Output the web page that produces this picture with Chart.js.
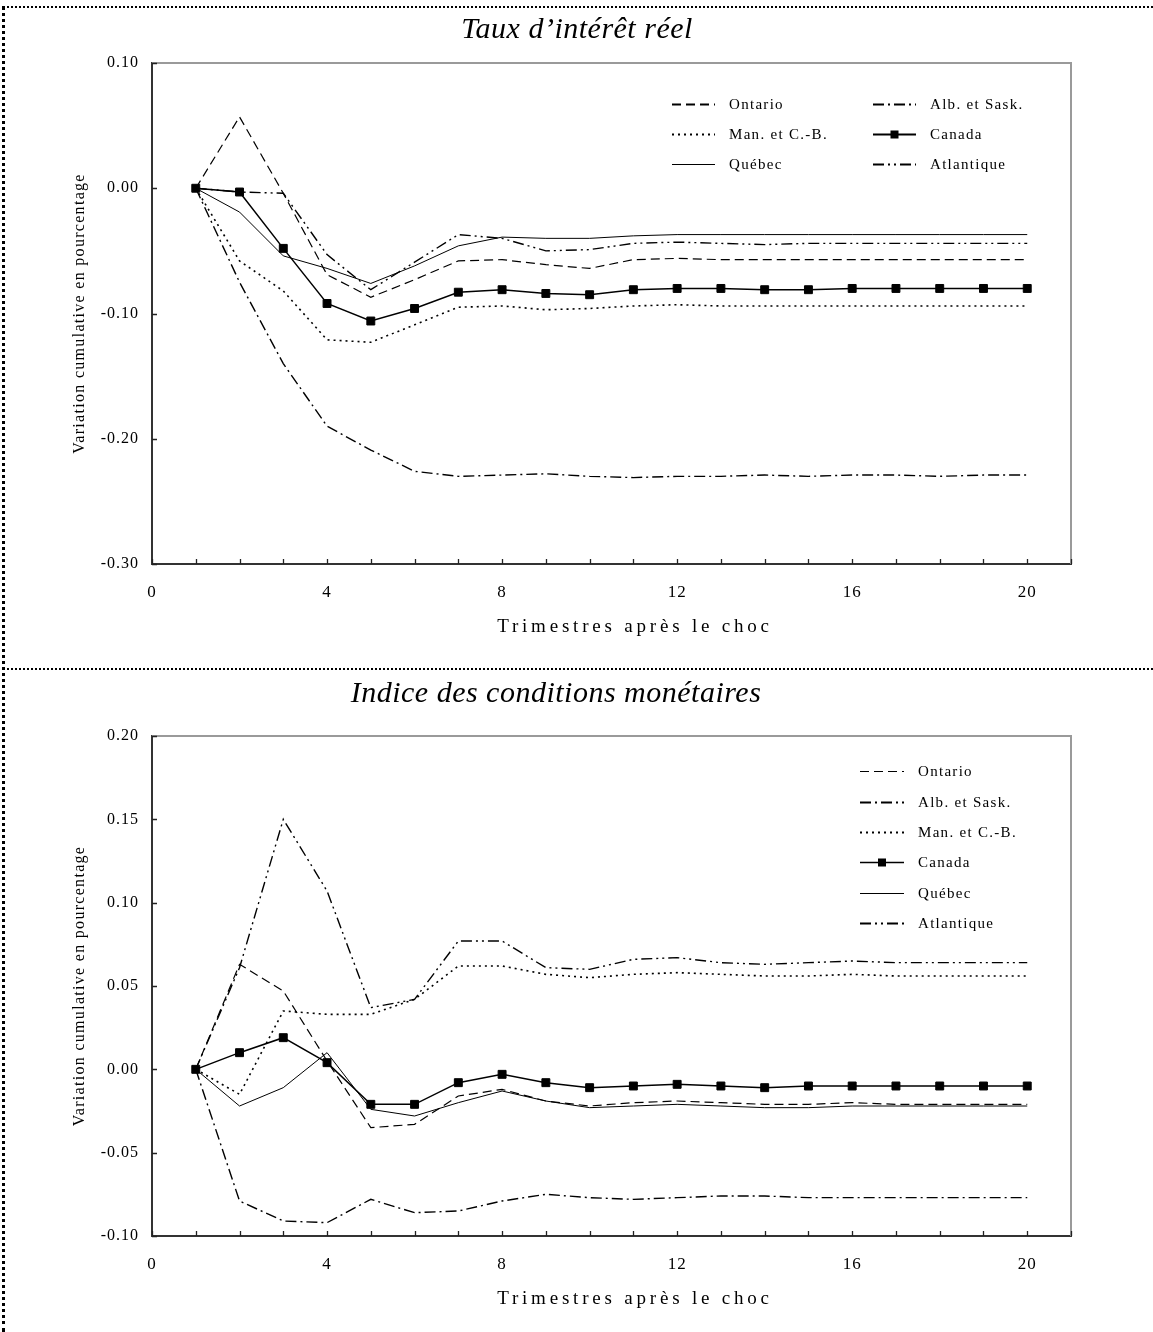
<!DOCTYPE html>
<html lang="fr">
<head>
<meta charset="utf-8">
<title>Taux d’intérêt réel et Indice des conditions monétaires</title>
<script src="https://cdn.jsdelivr.net/npm/chart.js@4.4.1/dist/chart.umd.min.js"></script>
<style>
  html, body { margin: 0; padding: 0; background: #fff; }
  body { width: 1153px; height: 1332px; position: relative; overflow: hidden; }
  .frame { position: absolute; left: 2px; top: 6px; width: 1151px; height: 1326px;
           border-left: 3px dotted #000; border-top: 2px dotted #000; box-sizing: border-box; }
  .sep { position: absolute; left: 2px; top: 668px; width: 1151px; border-top: 2px dotted #000; }
  canvas { position: absolute; left: 0; }
  #c1 { top: 0; }
  #c2 { top: 670px; }
</style>
</head>
<body>
<div class="frame"></div>
<div class="sep"></div>
<canvas id="c1" width="1153" height="668"></canvas>
<canvas id="c2" width="1153" height="662"></canvas>
<script>
// Trimestres après le choc
const quarters = [1, 2, 3, 4, 5, 6, 7, 8, 9, 10, 11, 12, 13, 14, 15, 16, 17, 18, 19, 20];

// Taux d'intérêt réel : variation cumulative en pourcentage
const ontarioTaux   = [0, 0.057, -0.004, -0.069, -0.087, -0.073, -0.058, -0.057, -0.061, -0.064, -0.057, -0.056, -0.057, -0.057, -0.057, -0.057, -0.057, -0.057, -0.057, -0.057];
const albSaskTaux   = [0, -0.075, -0.140, -0.190, -0.209, -0.226, -0.230, -0.229, -0.228, -0.230, -0.231, -0.230, -0.230, -0.229, -0.230, -0.229, -0.229, -0.230, -0.229, -0.229];
const manCBTaux     = [0, -0.058, -0.082, -0.121, -0.123, -0.109, -0.095, -0.094, -0.097, -0.096, -0.094, -0.093, -0.094, -0.094, -0.094, -0.094, -0.094, -0.094, -0.094, -0.094];
const canadaTaux    = [0, -0.003, -0.048, -0.092, -0.106, -0.096, -0.083, -0.081, -0.084, -0.085, -0.081, -0.080, -0.080, -0.081, -0.081, -0.080, -0.080, -0.080, -0.080, -0.080];
const quebecTaux    = [0, -0.019, -0.054, -0.064, -0.076, -0.062, -0.046, -0.039, -0.040, -0.040, -0.038, -0.037, -0.037, -0.037, -0.037, -0.037, -0.037, -0.037, -0.037, -0.037];
const atlantiqueTaux = [0, -0.003, -0.004, -0.053, -0.081, -0.059, -0.037, -0.040, -0.050, -0.049, -0.044, -0.043, -0.044, -0.045, -0.044, -0.044, -0.044, -0.044, -0.044, -0.044];

// Indice des conditions monétaires : variation cumulative en pourcentage
const ontarioICM    = [0, 0.063, 0.047, 0.005, -0.035, -0.033, -0.016, -0.012, -0.019, -0.022, -0.020, -0.019, -0.020, -0.021, -0.021, -0.020, -0.021, -0.021, -0.021, -0.021];
const albSaskICM    = [0, -0.079, -0.091, -0.092, -0.078, -0.086, -0.085, -0.079, -0.075, -0.077, -0.078, -0.077, -0.076, -0.076, -0.077, -0.077, -0.077, -0.077, -0.077, -0.077];
const manCBICM      = [0, -0.015, 0.035, 0.033, 0.033, 0.042, 0.062, 0.062, 0.057, 0.055, 0.057, 0.058, 0.057, 0.056, 0.056, 0.057, 0.056, 0.056, 0.056, 0.056];
const canadaICM     = [0, 0.010, 0.019, 0.004, -0.021, -0.021, -0.008, -0.003, -0.008, -0.011, -0.010, -0.009, -0.010, -0.011, -0.010, -0.010, -0.010, -0.010, -0.010, -0.010];
const quebecICM     = [0, -0.022, -0.011, 0.010, -0.024, -0.028, -0.020, -0.013, -0.019, -0.023, -0.022, -0.021, -0.022, -0.023, -0.023, -0.022, -0.022, -0.022, -0.022, -0.022];
const atlantiqueICM = [0, 0.061, 0.150, 0.107, 0.037, 0.042, 0.077, 0.077, 0.061, 0.060, 0.066, 0.067, 0.064, 0.063, 0.064, 0.065, 0.064, 0.064, 0.064, 0.064];

// Region names (legend labels)
const regionNames = ['Ontario', 'Alb. et Sask.', 'Man. et C.-B.', 'Canada', 'Québec', 'Atlantique'];

const SERIF = "'Liberation Serif', 'Times New Roman', serif";
Chart.defaults.font.family = SERIF;
Chart.defaults.font.size = 16;
Chart.defaults.color = '#000';

// Line style of each region
const styles = {
  'Ontario':       { dash: [9, 5], width: 1.2 },
  'Alb. et Sask.': { dash: [11, 4, 2, 4], width: 1.4 },
  'Man. et C.-B.': { dash: [2, 4], width: 1.6 },
  'Canada':        { dash: [], width: 1.5, marker: true },
  'Québec':        { dash: [], width: 1 },
  'Atlantique':    { dash: [11, 4, 2, 4, 2, 4], width: 1.4 }
};

function pairs(values) {
  return quarters.map((q, i) => ({ x: q, y: values[i] }));
}

function makeDatasets(seriesList) {
  return regionNames.map((name, i) => {
    const st = styles[name];
    return {
      label: name,
      data: pairs(seriesList[i]),
      borderColor: '#000',
      backgroundColor: '#000',
      borderWidth: st.width,
      borderDash: st.dash,
      tension: 0,
      pointStyle: 'rect',
      pointRadius: st.marker ? 5.6 : 0,
      pointHoverRadius: st.marker ? 5.6 : 0,
      pointBorderWidth: 1,
      order: st.marker ? 0 : 1
    };
  });
}

function letterText(ctx, text, x, y, spacing) {
  ctx.letterSpacing = spacing + 'px';
  ctx.fillText(text, x, y);
  ctx.letterSpacing = '0px';
}

// Inside ticks, light top/right frame, title, axis titles and legend
function decorPlugin(cfg) {
  return {
    id: 'decor',
    beforeDraw(chart) {
      chart.ctx.letterSpacing = '1px';
    },
    afterDraw(chart) {
      const ctx = chart.ctx;
      const a = chart.chartArea;
      const xs = chart.scales.x, ys = chart.scales.y;
      ctx.save();
      ctx.letterSpacing = '0px';
      // top and right frame
      ctx.strokeStyle = '#9a9a9a';
      ctx.lineWidth = 2;
      ctx.beginPath();
      ctx.moveTo(a.left, a.top);
      ctx.lineTo(a.right, a.top);
      ctx.lineTo(a.right, a.bottom);
      ctx.stroke();
      // inside tick marks
      ctx.strokeStyle = '#222';
      ctx.lineWidth = 1.3;
      ctx.beginPath();
      xs.ticks.forEach(t => {
        const px = Math.round(xs.getPixelForValue(t.value)) + 0.5;
        ctx.moveTo(px, a.bottom);
        ctx.lineTo(px, a.bottom - 5);
      });
      ys.ticks.forEach(t => {
        const py = Math.round(ys.getPixelForValue(t.value)) + 0.5;
        ctx.moveTo(a.left, py);
        ctx.lineTo(a.left + 5, py);
      });
      ctx.stroke();

      ctx.fillStyle = '#000';
      // chart title
      ctx.font = 'italic 30px ' + SERIF;
      ctx.textAlign = 'center';
      ctx.textBaseline = 'middle';
      letterText(ctx, cfg.title, cfg.titleX, cfg.titleY, 0.5);
      // x axis title
      ctx.font = '19px ' + SERIF;
      letterText(ctx, 'Trimestres après le choc', 635, a.bottom + 63, 3.8);
      // y axis title
      ctx.save();
      ctx.translate(80, (a.top + a.bottom) / 2);
      ctx.rotate(-Math.PI / 2);
      ctx.font = '16px ' + SERIF;
      letterText(ctx, 'Variation cumulative en pourcentage', 0, 0, 1.3);
      ctx.restore();

      // legend
      ctx.font = '15px ' + SERIF;
      ctx.textAlign = 'left';
      cfg.legend.forEach(item => {
        const st = styles[item.name];
        ctx.strokeStyle = '#000';
        ctx.lineWidth = item.thick ? st.width + 0.6 : st.width;
        ctx.setLineDash(st.dash);
        ctx.beginPath();
        ctx.moveTo(item.x, item.y + 0.5);
        ctx.lineTo(item.x + item.len, item.y + 0.5);
        ctx.stroke();
        ctx.setLineDash([]);
        if (st.marker) {
          ctx.fillRect(item.x + item.len / 2 - 4, item.y - 3.5, 8, 8);
        }
        letterText(ctx, item.name, item.x + item.len + 14, item.y + 1, 1.3);
      });
      ctx.restore();
    }
  };
}

function makeChart(canvasId, seriesList, yMin, yMax, yStep, padBottom, cfg) {
  return new Chart(document.getElementById(canvasId), {
    type: 'line',
    data: { datasets: makeDatasets(seriesList) },
    options: {
      responsive: false,
      animation: false,
      events: [],
      layout: { padding: { top: cfg.top, right: 82, left: 0, bottom: padBottom } },
      plugins: { legend: { display: false }, title: { display: false }, tooltip: { enabled: false } },
      scales: {
        x: {
          type: 'linear',
          min: 0, max: 21,
          grid: { display: false, drawTicks: false },
          border: { display: true, color: '#333', width: 2 },
          ticks: {
            stepSize: 1, autoSkip: false, maxRotation: 0, padding: 18,
            font: { size: 17 },
            callback: v => (v % 4 === 0 && v <= 20) ? String(v) : ''
          },
          afterFit: s => { s.height = 80; }
        },
        y: {
          type: 'linear',
          min: yMin, max: yMax,
          grid: { display: false, drawTicks: false },
          border: { display: true, color: '#333', width: 2 },
          ticks: {
            stepSize: yStep, padding: 13,
            font: { size: 16 },
            callback: v => Number(v).toFixed(2)
          },
          afterFit: s => { s.width = 152; }
        }
      }
    },
    plugins: [decorPlugin(cfg)]
  });
}

makeChart('c1',
  [ontarioTaux, albSaskTaux, manCBTaux, canadaTaux, quebecTaux, atlantiqueTaux],
  -0.3, 0.1, 0.1, 24,
  {
    title: 'Taux d’intérêt réel', titleX: 577, titleY: 30, top: 63,
    legend: [
      { name: 'Ontario',       x: 672, y: 104, len: 43, thick: true },
      { name: 'Alb. et Sask.', x: 873, y: 104, len: 43, thick: true },
      { name: 'Man. et C.-B.', x: 672, y: 134, len: 43, thick: true },
      { name: 'Canada',        x: 873, y: 134, len: 43, thick: true },
      { name: 'Québec',        x: 672, y: 164, len: 43, thick: false },
      { name: 'Atlantique',    x: 873, y: 164, len: 43, thick: true }
    ]
  });

makeChart('c2',
  [ontarioICM, albSaskICM, manCBICM, canadaICM, quebecICM, atlantiqueICM],
  -0.1, 0.2, 0.05, 16,
  {
    title: 'Indice des conditions monétaires', titleX: 556, titleY: 24, top: 66,
    legend: [
      { name: 'Ontario',       x: 860, y: 101, len: 44 },
      { name: 'Alb. et Sask.', x: 860, y: 132, len: 44, thick: true },
      { name: 'Man. et C.-B.', x: 860, y: 162, len: 44, thick: true },
      { name: 'Canada',        x: 860, y: 192, len: 44 },
      { name: 'Québec',        x: 860, y: 223, len: 44 },
      { name: 'Atlantique',    x: 860, y: 253, len: 44, thick: true }
    ]
  });
</script>
</body>
</html>
